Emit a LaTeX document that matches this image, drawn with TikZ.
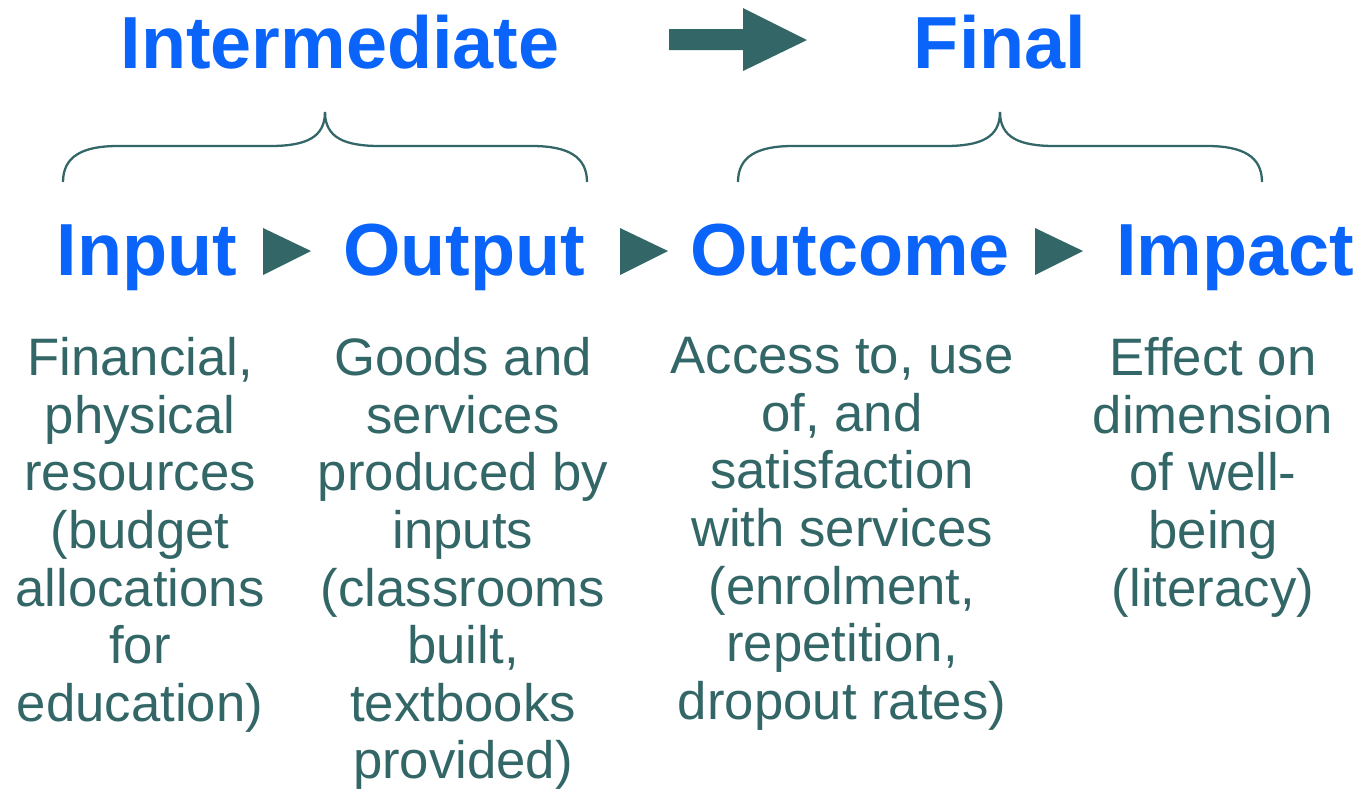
\documentclass[tikz,border=0pt]{standalone}
\usepackage{fontspec}
\setmainfont{Liberation Sans}
\usepackage{xcolor}
\definecolor{headblue}{RGB}{10,100,250}
\definecolor{darkteal}{RGB}{51,102,102}
\usetikzlibrary{calc}

\begin{document}
\begin{tikzpicture}[x=0.02cm, y=-0.02cm,
	head/.style={text=headblue, font=\fontsize{42}{46}\selectfont\bfseries, inner sep=0pt, anchor=base},
	body/.style={text=darkteal, font=\fontsize{30}{32.8}\selectfont, align=center, inner sep=0pt, anchor=north},
	brace/.style={draw=darkteal, line width=1.3pt},
	tri/.style={fill=darkteal}]
	\useasboundingbox (0,0) rectangle (1362,789);
	
	% top row
	\node[head] (inter) at (340,68) {Intermediate};
	\node[head] (final) at (1000,68) {Final};
	\fill[tri] (669,29) -- (743,29) -- (743,8) -- (807,40) -- (743,71) -- (743,50) -- (669,50) -- cycle;
	
	% braces
	\foreach \l/\m/\r in {63/325/587, 738/1000/1262}{
		\draw[brace] (\l,182) .. controls (\l,156) and (\l+20,146) .. (\l+55,146)
			-- (\m-55,146) .. controls (\m-20,146) and (\m,138) .. (\m,112);
		\draw[brace] (\r,182) .. controls (\r,156) and (\r-20,146) .. (\r-55,146)
			-- (\m+55,146) .. controls (\m+20,146) and (\m,138) .. (\m,112);
	}
	
	% stages
	\node[head] (input) at (147,275) {Input};
	\node[head] (output) at (464,275) {Output};
	\node[head] (outcome) at (850,275) {Outcome};
	\node[head] (impact) at (1235,275) {Impact};
	\foreach \x in {263, 620, 1035}
		\fill[tri] (\x,228) -- (\x+48,251) -- (\x,275) -- cycle;
	
	% descriptions
	\node[body] (d1) at (140,337) {Financial,\\physical\\resources\\(budget\\allocations\\for\\education)};
	\node[body] (d2) at (463,337) {Goods and\\services\\produced by\\inputs\\(classrooms\\built,\\textbooks\\provided)};
	\node[body] (d3) at (842,337) {Access to, use\\of, and\\satisfaction\\with services\\(enrolment,\\repetition,\\dropout rates)};
	\node[body] (d4) at (1213,337) {Effect on\\dimension\\of well-\\being\\(literacy)};
\end{tikzpicture}
\end{document}
